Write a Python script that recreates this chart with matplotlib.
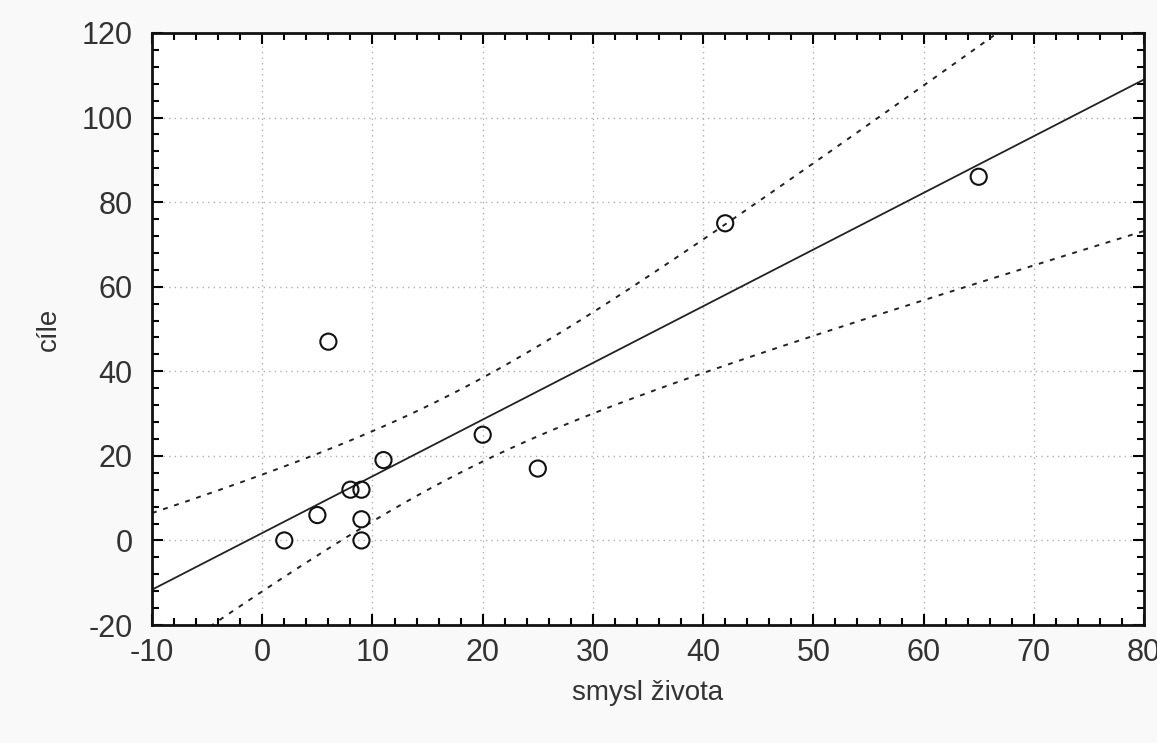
import numpy as np
import matplotlib.pyplot as plt
from matplotlib.ticker import MultipleLocator

# data
smysl = [2, 5, 6, 8, 9, 9, 9, 11, 20, 25, 42, 65]
cile = [0, 6, 47, 12, 12, 5, 0, 19, 25, 17, 75, 86]

x_ticks = [-10, 0, 10, 20, 30, 40, 50, 60, 70, 80]
y_ticks = [-20, 0, 20, 40, 60, 80, 100, 120]
t_crit = 2.228  # t(0.975, df=10)


def main():
    plt.rcParams["font.family"] = ["Liberation Sans", "DejaVu Sans"]
    plt.rcParams["axes.unicode_minus"] = False

    x = np.array(smysl, dtype=float)
    y = np.array(cile, dtype=float)
    n = len(x)

    # linear fit + 95% confidence band of the mean
    b, a = np.polyfit(x, y, 1)
    resid = y - (a + b * x)
    s = np.sqrt(np.sum(resid ** 2) / (n - 2))
    sxx = np.sum((x - x.mean()) ** 2)

    xs = np.linspace(-10, 80, 200)
    fit = a + b * xs
    se = s * np.sqrt(1 / n + (xs - x.mean()) ** 2 / sxx)
    upper = fit + t_crit * se
    lower = fit - t_crit * se

    fig = plt.figure(figsize=(11.57, 7.43), dpi=100, facecolor="#f9f9f9")
    ax = fig.add_axes([0.1314, 0.1588, 0.8574, 0.7968])
    ax.set_facecolor("white")

    ax.plot(xs, fit, color="#222222", linewidth=1.3)
    ax.plot(xs, upper, color="#222222", linewidth=1.4, linestyle=(0, (2.5, 3.5)))
    ax.plot(xs, lower, color="#222222", linewidth=1.4, linestyle=(0, (2.5, 3.5)))
    ax.scatter(x, y, s=135, facecolors="none", edgecolors="#111111",
               linewidths=1.5, zorder=3)

    ax.set_xlim(-10, 80)
    ax.set_ylim(-20, 120)
    ax.set_xticks(x_ticks)
    ax.set_yticks(y_ticks)
    ax.xaxis.set_minor_locator(MultipleLocator(2))
    ax.yaxis.set_minor_locator(MultipleLocator(4))

    ax.grid(True, which="major", color="#b0b0b0", linestyle=(0, (1, 3)), linewidth=1)
    ax.tick_params(which="both", direction="in", top=True, right=True,
                   color="black", width=1.5)
    ax.tick_params(which="major", length=8, labelsize=22, labelcolor="#333333")
    ax.tick_params(axis="y", which="major", pad=14)
    ax.tick_params(axis="x", which="major", pad=9)
    ax.tick_params(which="minor", length=5)
    for sp in ax.spines.values():
        sp.set_linewidth(2)
        sp.set_color("#111111")

    ax.set_xlabel("smysl života", fontsize=20, color="#333333", labelpad=9)
    ax.set_ylabel("cíle", fontsize=20, color="#333333", labelpad=14)

    fig.savefig("out.png", dpi=100, facecolor=fig.get_facecolor())


main()
